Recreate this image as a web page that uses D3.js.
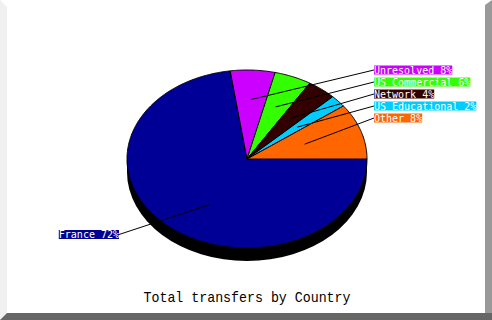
<!DOCTYPE html>
<html>
<head>
<meta charset="utf-8">
<script src="https://cdn.jsdelivr.net/npm/d3@7"></script>
<style>
  body { margin: 0; background: #fff; }
  svg { display: block; }
</style>
</head>
<body>
<div id="chart"></div>
<script>
const categories = ["France", "Unresolved", "US Commercial", "Network", "US Educational", "Other"];
const values = [72, 8, 6, 4, 2, 8];
const colors = ["#000096", "#cc00ff", "#33ff00", "#330000", "#00ccff", "#ff6600"];
const title = "Total transfers by Country";

function draw() {
  const width = 492, height = 320;
  const cx = 247, cy = 159, rx = 120, ry = 89, depth = 13;
  const anchorR = 59.5;

  const svg = d3.select("#chart").append("svg")
    .attr("width", width).attr("height", height);

  // frame bevel
  svg.append("rect").attr("width", width).attr("height", height).attr("fill", "#fff");
  svg.append("polygon").attr("points", `0,0 7,7 7,313 0,320`).attr("fill", "#f0f0f0");
  svg.append("polygon").attr("points", `485,5 492,0 492,320 485,313`).attr("fill", "#999");
  svg.append("polygon").attr("points", `0,320 7,313 492,313 492,320`).attr("fill", "#666");

  const total = d3.sum(values);
  const pct = d3.scaleLinear().domain([0, total]).range([0, 100]);

  const pie = d3.pie().sort(null).value(d => d)
    .startAngle(Math.PI / 2).endAngle(Math.PI / 2 + 2 * Math.PI);
  const arcs = pie(values);

  // point on ellipse along true screen direction (d3 angle: clockwise from 12 o'clock)
  const dir = a => [Math.sin(a), -Math.cos(a)];
  const edge = a => {
    const [ux, uy] = dir(a);
    const r = 1 / Math.sqrt(ux * ux / (rx * rx) + uy * uy / (ry * ry));
    return [cx + ux * r, cy + uy * r];
  };
  const slicePath = (a0, a1) => {
    const n = Math.max(2, Math.ceil((a1 - a0) / 0.01));
    const pts = [[cx, cy]];
    for (let i = 0; i <= n; i++) pts.push(edge(a0 + (a1 - a0) * i / n));
    return d3.line()(pts) + "Z";
  };

  // 3D side
  const side = svg.append("g").attr("fill", "#000");
  side.append("ellipse").attr("cx", cx).attr("cy", cy + depth).attr("rx", rx).attr("ry", ry);
  side.append("rect").attr("x", cx - rx).attr("y", cy).attr("width", 2 * rx).attr("height", depth);

  svg.append("g").selectAll("path").data(arcs).join("path")
    .attr("d", d => slicePath(d.startAngle, d.endAngle))
    .attr("fill", (d, i) => colors[i])
    .attr("stroke", "#000").attr("stroke-width", 1).attr("stroke-linejoin", "round");

  // labels
  const charW = 6.02, boxH = 9;
  const rightX = cx + rx + 7, leftX = cx - rx - 8;
  let ri = 0;
  const labels = arcs.map((d, i) => {
    const mid = (d.startAngle + d.endAngle) / 2;
    const [ux, uy] = dir(mid);
    const text = `${categories[i]} ${Math.round(pct(d.value))}%`;
    const w = text.length * charW;
    const right = ux > 0;
    const y = right ? cy - ry + 12 * (ri++) : cy + 75.5;
    const bx = right ? rightX : leftX - w;
    return { i, text, w, y, bx, ax: cx + ux * anchorR, ay: cy + uy * anchorR,
             lx: right ? rightX : leftX };
  });

  const lg = svg.append("g");
  lg.selectAll("line").data(labels).join("line")
    .attr("x1", d => d.ax).attr("y1", d => d.ay)
    .attr("x2", d => d.lx).attr("y2", d => d.y)
    .attr("stroke", "#000").attr("stroke-width", 1);
  lg.selectAll("rect").data(labels).join("rect")
    .attr("x", d => d.bx).attr("y", d => d.y - boxH / 2)
    .attr("width", d => d.w).attr("height", boxH)
    .attr("fill", d => colors[d.i]);
  lg.selectAll("text").data(labels).join("text")
    .attr("x", d => d.bx).attr("y", d => d.y + 3.6)
    .attr("fill", "#fff")
    .style("font", "10px 'DejaVu Sans Mono', monospace")
    .text(d => d.text);

  svg.append("text")
    .attr("x", cx).attr("y", 302)
    .attr("text-anchor", "middle")
    .attr("textLength", 207).attr("lengthAdjust", "spacingAndGlyphs")
    .style("font", "15px 'Liberation Mono', monospace")
    .attr("fill", "#000")
    .text(title);
}
draw();
</script>
</body>
</html>
